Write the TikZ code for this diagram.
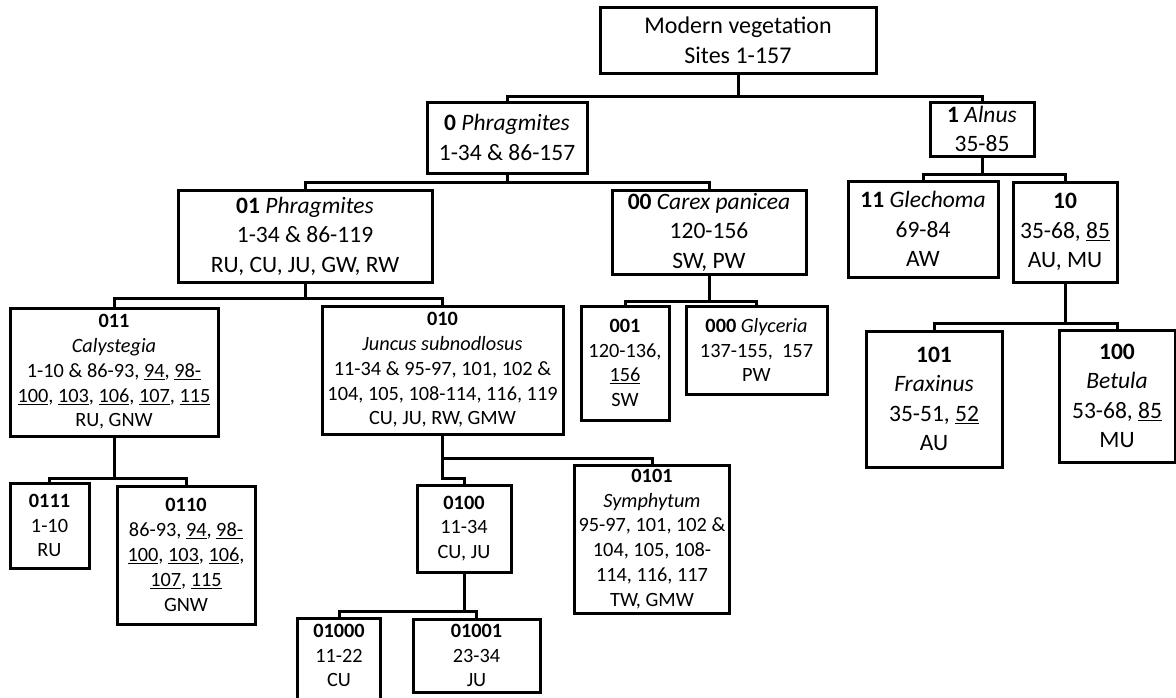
\documentclass[tikz,border=0pt]{standalone}
\usepackage{fontspec}
\setmainfont{Carlito}
\begin{document}
\begin{tikzpicture}[x=1pt,y=-1pt,
  box/.style={draw, line width=3pt, inner sep=0pt, align=center},
  openbox/.style={inner sep=0pt, align=center},
  bigtxt/.style={font=\fontsize{23.5}{29.5}\selectfont},
  smalltxt/.style={font=\fontsize{20.3}{24.8}\selectfont},
  roottxt/.style={font=\fontsize{24}{30}\selectfont},
  conn/.style={line width=3pt}]
\useasboundingbox (0,0) rectangle (1176,697);
% level 0
\node[box,roottxt,minimum width=276pt,minimum height=66pt] (root) at (738,40) {Modern vegetation\\Sites 1-157};
% level 1
\node[box,bigtxt,minimum width=160pt,minimum height=71pt] (n0) at (507,137.5) {\textbf{0} \textit{Phragmites}\\1-34 \& 86-157};
\node[box,bigtxt,minimum width=104pt,minimum height=54pt] (n1) at (982,129) {\textbf{1} \textit{Alnus}\\35-85};
% level 2
\node[box,bigtxt,minimum width=254pt,minimum height=92pt] (n01) at (305,236) {\textbf{01} \textit{Phragmites}\\1-34 \& 86-119\\RU, CU, JU, GW, RW};
\node[box,bigtxt,minimum width=194pt,minimum height=84pt] (n00) at (709,232) {\textbf{00} \textit{Carex panicea}\\120-156\\SW, PW};
\node[box,bigtxt,minimum width=150pt,minimum height=96pt] (n11) at (923,229) {\textbf{11} \textit{Glechoma}\\69-84\\AW};
\node[box,bigtxt,minimum width=104pt,minimum height=100pt] (n10) at (1065,232) {\textbf{10}\\35-68, \underline{85}\\AU, MU};
% level 3
\node[box,smalltxt,minimum width=208pt,minimum height=128pt] (n011) at (114,372) {\textbf{011}\\\textit{Calystegia}\\1-10 \& 86-93, \underline{94}, \underline{98-}\\\underline{100}, \underline{103}, \underline{106}, \underline{107}, \underline{115}\\RU, GNW};
\node[box,smalltxt,minimum width=241pt,minimum height=128pt] (n010) at (442.5,370) {\textbf{010}\\\textit{Juncus subnodlosus}\\11-34 \& 95-97, 101, 102 \&\\104, 105, 108-114, 116, 119\\CU, JU, RW, GMW};
\node[box,smalltxt,minimum width=88pt,minimum height=114pt] (n001) at (625,363) {\textbf{001}\\120-136,\\\underline{156}\\SW};
\node[box,smalltxt,minimum width=141pt,minimum height=88pt] (n000) at (756.5,350) {\textbf{000} \textit{Glyceria}\\137-155,~~157\\PW};
\node[box,bigtxt,minimum width=136pt,minimum height=136pt] (n101) at (934,399) {\textbf{101}\\\textit{Fraxinus}\\35-51, \underline{52}\\AU};
\node[box,bigtxt,minimum width=116pt,minimum height=132pt] (n100) at (1117,396) {\textbf{100}\\\textit{Betula}\\53-68, \underline{85}\\MU};
% level 4
\node[box,smalltxt,minimum width=79pt,minimum height=85pt] (n0111) at (49.5,525.5) {\textbf{0111}\\1-10\\RU};
\node[box,smalltxt,minimum width=138pt,minimum height=138pt] (n0110) at (186,555) {\textbf{0110}\\86-93, \underline{94}, \underline{98-}\\\underline{100}, \underline{103}, \underline{106},\\\underline{107}, \underline{115}\\GNW};
\node[box,smalltxt,minimum width=94pt,minimum height=87pt] (n0100) at (464,528.5) {\textbf{0100}\\11-34\\CU, JU};
\node[box,smalltxt,minimum width=155pt,minimum height=148pt] (n0101) at (652,539) {\textbf{0101}\\\textit{Symphytum}\\95-97, 101, 102 \&\\104, 105, 108-\\114, 116, 117\\TW, GMW};
% level 5
\node[openbox,smalltxt,minimum width=82pt,minimum height=73pt] (n01000) at (339,655.5) {\textbf{01000}\\11-22\\CU};
\draw[conn] (n01000.south west) ++(0,14) -- (n01000.north west) -- (n01000.north east) -- ++(0,87);
\node[box,smalltxt,minimum width=127pt,minimum height=73pt] (n01001) at (476.5,655.5) {\textbf{01001}\\23-34\\JU};
% connectors
\draw[conn] (root.south) -- ++(0,22) coordinate (jr);
\draw[conn] (n0.north) |- (jr) -| (n1.north);
\draw[conn] (n0.south) -- ++(0,8) coordinate (j0);
\draw[conn] (n01.north) |- (j0) -| (n00.north);
\draw[conn] (n1.south) -- ++(0,17) coordinate (j1);
\draw[conn] (n11.north) |- (j1) -| (n10.north);
\draw[conn] (n01.south) -- ++(0,15) coordinate (j01);
\draw[conn] (n011.north) |- (j01) -| (n010.north);
\draw[conn] (n00.south) -- ++(0,26) coordinate (j00);
\draw[conn] (n001.north) |- (j00) -| (n000.north);
\draw[conn] (n10.south) -- ++(0,40) coordinate (j10);
\draw[conn] (n101.north) |- (j10) -| (n100.north);
\draw[conn] (n011.south) -- ++(0,41) coordinate (j011);
\draw[conn] (n0111.north) |- (j011) -| (n0110.north);
\draw[conn] (n010.south) -- ++(0,23) coordinate (j010);
\draw[conn] (n0101.north) |- (j010) -- ++(0,20) -| (n0100.north);
\draw[conn] (n0100.south) -- ++(0,38) coordinate (j0100);
\draw[conn] (n01000.north) |- (j0100) -| (n01001.north);
\end{tikzpicture}
\end{document}
